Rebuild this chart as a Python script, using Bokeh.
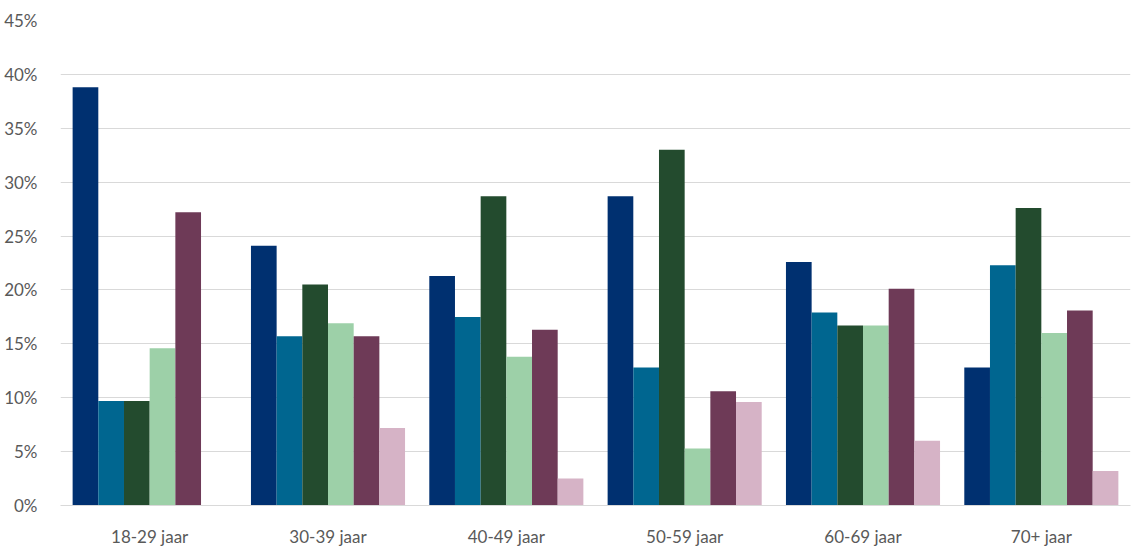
from bokeh.plotting import figure
from bokeh.models import FactorRange, Range1d, NumeralTickFormatter, ColumnDataSource, FixedTicker
from bokeh.transform import dodge
from bokeh.embed import file_html
from bokeh.resources import INLINE

categories = ["18-29 jaar", "30-39 jaar", "40-49 jaar", "50-59 jaar", "60-69 jaar", "70+ jaar"]
s1 = [0.388, 0.241, 0.213, 0.287, 0.226, 0.128]
s2 = [0.097, 0.157, 0.175, 0.128, 0.179, 0.223]
s3 = [0.097, 0.205, 0.287, 0.330, 0.167, 0.276]
s4 = [0.146, 0.169, 0.138, 0.053, 0.167, 0.160]
s5 = [0.272, 0.157, 0.163, 0.106, 0.201, 0.181]
s6 = [0.000, 0.072, 0.025, 0.096, 0.060, 0.032]
series = [s1, s2, s3, s4, s5, s6]
colors = ["#003070", "#006690", "#234B2E", "#9DD0A8", "#6E3A57", "#D6B3C6"]
y_ticks = [0, 0.05, 0.10, 0.15, 0.20, 0.25, 0.30, 0.35, 0.40, 0.45]

src = ColumnDataSource(dict(cat=categories, **{f"s{i}": s for i, s in enumerate(series)}))

p = figure(width=1145, height=549, x_range=FactorRange(*categories, range_padding=0),
           y_range=Range1d(0, 0.45), output_backend="svg", toolbar_location=None,
           min_border_left=60, min_border_right=15, min_border_top=20, min_border_bottom=42)
p.x_range.factor_padding = 0

group = 0.864
bw = group / 6
for i in range(6):
    off = -group / 2 + bw * (i + 0.5)
    p.vbar(x=dodge("cat", off, range=p.x_range), top=f"s{i}", width=bw, source=src,
           fill_color=colors[i], line_color=None)

p.outline_line_color = None
p.xgrid.grid_line_color = None
p.ygrid.grid_line_color = "#D9D9D9"
p.ygrid.ticker = FixedTicker(ticks=y_ticks)
p.yaxis.ticker = FixedTicker(ticks=y_ticks)
p.yaxis.formatter = NumeralTickFormatter(format="0%")
p.yaxis.axis_line_color = None
p.yaxis.major_tick_line_color = None
p.yaxis.minor_tick_line_color = None
p.yaxis.major_label_standoff = 17
p.xaxis.axis_line_color = "#D9D9D9"
p.xaxis.major_tick_line_color = None
p.xaxis.minor_tick_line_color = None
p.xaxis.major_label_standoff = 14
for ax in (p.xaxis, p.yaxis):
    ax.major_label_text_font = "Lato"
    ax.major_label_text_font_size = "17px"
    ax.major_label_text_color = "#595959"

open("out.html", "w").write(file_html(p, INLINE))
